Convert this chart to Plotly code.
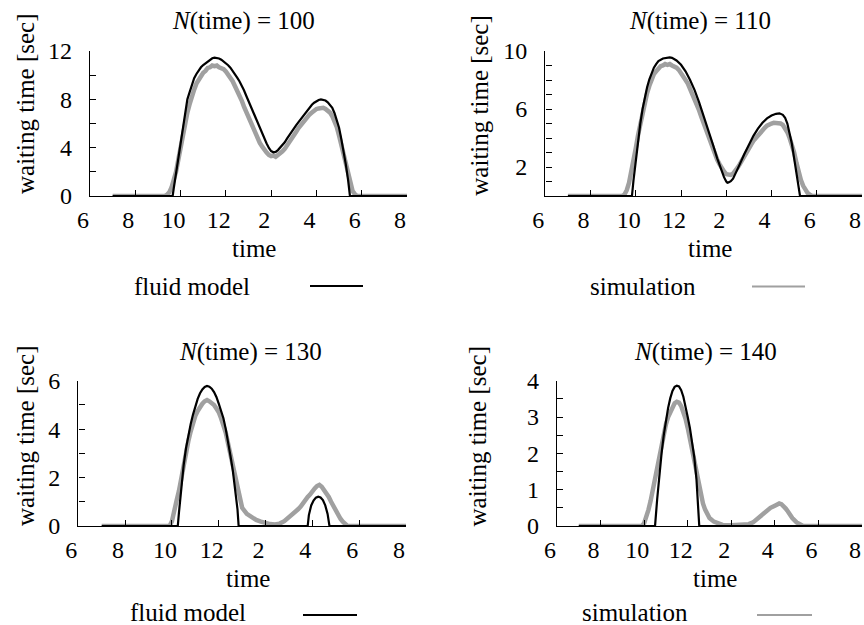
import plotly.graph_objects as go

# ---------------- data ----------------
hour_ticks = [6, 8, 10, 12, 14, 16, 18, 20]
hour_labels = ["6", "8", "10", "12", "2", "4", "6", "8"]

panel_titles = ["<i>N</i>(time) = 100", "<i>N</i>(time) = 110",
                "<i>N</i>(time) = 130", "<i>N</i>(time) = 140"]

y_top = [12, 10, 6, 4]
yticks_100 = [0, 2, 4, 6, 8, 10, 12]
ylabels_100 = ["0", "", "4", "", "8", "", "12"]
yticks_110 = [0, 1, 2, 3, 4, 5, 6, 7, 8, 9, 10]
ylabels_110 = ["", "", "2", "", "", "", "6", "", "", "", "10"]
yticks_130 = [0, 1, 2, 3, 4, 5, 6]
ylabels_130 = ["0", "", "2", "", "4", "", "6"]
yticks_140 = [0, 0.5, 1, 1.5, 2, 2.5, 3, 3.5, 4]
ylabels_140 = ["0", "", "1", "", "2", "", "3", "", "4"]

# fluid model, N = 100
t_fluid_100 = [7.0, 9.65, 9.7, 9.8, 9.9, 10.0, 10.1, 10.2, 10.3, 10.4, 10.5, 10.6, 10.7, 10.8, 10.9,
               11.0, 11.1, 11.2, 11.3, 11.4, 11.5, 11.6, 11.7, 11.8, 11.9, 12.0, 12.1, 12.2, 12.3,
               12.4, 12.5, 12.6, 12.7, 12.8, 12.9, 13.0, 13.1, 13.2, 13.3, 13.4, 13.5, 13.6, 13.7,
               13.8, 13.9, 14.0, 14.1, 14.2, 14.3, 14.4, 14.5, 14.6, 14.7, 14.8, 14.9, 15.0, 15.1,
               15.2, 15.3, 15.4, 15.5, 15.6, 15.7, 15.8, 15.9, 16.0, 16.1, 16.2, 16.3, 16.4, 16.5,
               16.6, 16.7, 16.8, 16.9, 17.0, 17.1, 17.2, 17.3, 17.4, 17.48, 20.0]
w_fluid_100 = [0, 0, 0.65, 1.9, 3.25, 4.6, 5.9, 7.0, 8.0, 8.6, 9.25, 9.75, 10.1, 10.4, 10.65,
               10.84, 11.0, 11.15, 11.3, 11.4, 11.45, 11.44, 11.38, 11.28, 11.15, 11.0, 10.82, 10.62, 10.38,
               10.1, 9.8, 9.5, 9.15, 8.75, 8.3, 7.85, 7.4, 7.0, 6.55, 6.1, 5.65, 5.25, 4.85,
               4.35, 3.98, 3.72, 3.62, 3.65, 3.8, 4.0, 4.2, 4.45, 4.75, 5.05, 5.35, 5.6, 5.85,
               6.1, 6.35, 6.6, 6.85, 7.1, 7.35, 7.55, 7.72, 7.85, 7.95, 8.0, 7.98, 7.9, 7.75,
               7.55, 7.3, 6.85, 6.3, 5.65, 4.7, 3.7, 2.6, 1.3, 0, 0]

# simulation, N = 100
t_sim_100 = [7.0, 9.3, 9.4, 9.5, 9.6, 9.7, 9.8, 9.9, 10.0, 10.1, 10.2, 10.3, 10.4, 10.5, 10.6, 10.7,
             10.8, 10.9, 11.0, 11.1, 11.2, 11.3, 11.4, 11.5, 11.6, 11.7, 11.8, 11.9, 12.0, 12.1,
             12.2, 12.3, 12.4, 12.5, 12.6, 12.7, 12.8, 12.9, 13.0, 13.1, 13.2, 13.3, 13.4, 13.5,
             13.6, 13.7, 13.8, 13.9, 14.0, 14.1, 14.2, 14.3, 14.4, 14.5, 14.6, 14.7, 14.8, 14.9,
             15.0, 15.1, 15.2, 15.3, 15.4, 15.5, 15.6, 15.7, 15.8, 15.9, 16.0, 16.1, 16.2, 16.3,
             16.4, 16.5, 16.6, 16.7, 16.8, 16.9, 17.0, 17.1, 17.2, 17.3, 17.4, 17.5, 17.6, 17.7,
             17.8, 20.0]
w_sim_100 = [0, 0, 0.1, 0.3, 0.7, 1.3, 2.0, 3.0, 4.1, 5.1, 6.0, 6.9, 7.6, 8.3, 8.8, 9.3,
             9.6, 9.95, 10.2, 10.35, 10.6, 10.65, 10.8, 10.75, 10.8, 10.65, 10.6, 10.5, 10.3, 10.05,
             9.8, 9.5, 9.1, 8.75, 8.3, 7.9, 7.4, 6.95, 6.5, 6.0, 5.6, 5.15, 4.8, 4.4,
             4.1, 3.8, 3.6, 3.4, 3.3, 3.35, 3.25, 3.4, 3.5, 3.7, 3.9, 4.15, 4.4, 4.7,
             5.0, 5.3, 5.6, 5.85, 6.1, 6.35, 6.6, 6.75, 6.9, 7.1, 7.2, 7.25, 7.3, 7.3,
             7.2, 7.1, 6.9, 6.6, 6.2, 5.7, 5.0, 4.2, 3.3, 2.4, 1.6, 0.9, 0.4, 0.15,
             0, 0]

# fluid model, N = 110
t_fluid_110 = [7.0, 9.83, 9.9, 10.0, 10.1, 10.2, 10.3, 10.4, 10.5, 10.6, 10.7, 10.8, 10.9, 11.0,
               11.2, 11.4, 11.5, 11.6, 11.8, 12.0, 12.2, 12.4, 12.6, 12.8, 13.0, 13.2, 13.4, 13.6,
               13.8, 13.9, 14.0, 14.05, 14.1, 14.2, 14.3, 14.4, 14.6, 14.8, 15.0, 15.2, 15.4, 15.6,
               15.8, 16.0, 16.2, 16.35, 16.5, 16.6, 16.7, 16.8, 16.9, 17.0, 17.1, 17.2, 17.26, 20.0]
w_fluid_110 = [0, 0, 1.1, 2.5, 3.8, 5.0, 6.0, 6.8, 7.5, 8.05, 8.5, 8.85, 9.1, 9.3,
               9.48, 9.56, 9.56, 9.53, 9.35, 9.05, 8.6, 8.0, 7.3, 6.45, 5.55, 4.6, 3.6, 2.6,
               1.7, 1.3, 1.0, 0.92, 0.94, 1.02, 1.2, 1.5, 2.2, 2.9, 3.55, 4.15, 4.65, 5.05,
               5.35, 5.55, 5.67, 5.7, 5.6, 5.4, 5.0, 4.4, 3.6, 2.6, 1.6, 0.6, 0, 0]

# simulation, N = 110
t_sim_110 = [7.0, 9.4, 9.5, 9.6, 9.7, 9.8, 9.9, 10.0, 10.1, 10.2, 10.3, 10.4, 10.5, 10.6, 10.7,
             10.8, 10.9, 11.0, 11.1, 11.2, 11.3, 11.4, 11.5, 11.6, 11.7, 11.8, 11.9, 12.0, 12.1,
             12.2, 12.3, 12.4, 12.5, 12.6, 12.7, 12.8, 12.9, 13.0, 13.1, 13.2, 13.3, 13.4, 13.5,
             13.6, 13.7, 13.8, 13.9, 14.0, 14.1, 14.2, 14.3, 14.4, 14.5, 14.6, 14.7, 14.8, 14.9,
             15.0, 15.1, 15.2, 15.3, 15.4, 15.5, 15.6, 15.7, 15.8, 15.9, 16.0, 16.1, 16.2, 16.3,
             16.4, 16.5, 16.6, 16.7, 16.8, 16.9, 17.0, 17.1, 17.2, 17.3, 17.4, 17.5, 17.6, 17.7,
             17.8, 20.0]
w_sim_110 = [0, 0, 0.1, 0.4, 0.9, 1.6, 2.4, 3.3, 4.2, 5.0, 5.8, 6.5, 7.1, 7.6, 8.05,
             8.4, 8.6, 8.8, 8.95, 9.0, 9.1, 9.05, 9.1, 9.0, 8.95, 8.85, 8.7, 8.5, 8.3,
             8.0, 7.75, 7.4, 7.1, 6.7, 6.3, 5.9, 5.45, 5.0, 4.55, 4.1, 3.65, 3.2, 2.85,
             2.5, 2.2, 1.9, 1.7, 1.5, 1.5, 1.45, 1.55, 1.7, 1.95, 2.2, 2.5, 2.8, 3.05,
             3.3, 3.55, 3.8, 4.0, 4.2, 4.4, 4.6, 4.7, 4.85, 4.95, 5.0, 5.05, 5.05, 5.05,
             5.0, 4.9, 4.7, 4.4, 4.0, 3.55, 3.0, 2.3, 1.6, 1.1, 0.7, 0.4, 0.2, 0.08,
             0, 0]

# fluid model, N = 130
t_fluid_130 = [7.0, 10.25, 10.3, 10.4, 10.5, 10.6, 10.7, 10.8, 10.9, 11.0, 11.1, 11.2, 11.3,
               11.4, 11.5, 11.6, 11.7, 11.8, 11.9, 12.0, 12.1, 12.2, 12.3, 12.4, 12.5, 12.6,
               12.7, 12.8, 12.85, 15.8, 15.85, 15.95, 16.05, 16.15, 16.25, 16.35, 16.45, 16.55,
               16.65, 16.73, 20.0]
w_fluid_130 = [0, 0, 0.55, 1.6, 2.5, 3.2, 3.75, 4.2, 4.6, 4.95, 5.25, 5.48, 5.64,
               5.74, 5.78, 5.75, 5.67, 5.53, 5.33, 5.05, 4.75, 4.45, 4.0, 3.5, 2.9, 2.3,
               1.55, 0.7, 0, 0, 0.45, 0.85, 1.05, 1.17, 1.21, 1.18, 1.07, 0.85,
               0.5, 0, 0]

# simulation, N = 130
t_sim_130 = [7.0, 9.9, 10.0, 10.1, 10.2, 10.3, 10.4, 10.5, 10.6, 10.7, 10.8, 10.9, 11.0, 11.1,
             11.2, 11.3, 11.4, 11.5, 11.6, 11.7, 11.8, 11.9, 12.0, 12.1, 12.2, 12.3, 12.4, 12.5,
             12.6, 12.7, 12.8, 12.9, 13.0, 13.2, 13.4, 13.6, 13.8, 14.0, 14.2, 14.4, 14.6, 14.8,
             15.0, 15.2, 15.4, 15.5, 15.6, 15.7, 15.8, 15.9, 16.0, 16.1, 16.2, 16.3, 16.4, 16.5,
             16.6, 16.7, 16.8, 16.9, 17.0, 17.1, 17.2, 17.3, 17.4, 17.5, 20.0]
w_sim_130 = [0, 0, 0.2, 0.55, 1.05, 1.45, 2.0, 2.5, 3.05, 3.5, 3.9, 4.25, 4.55, 4.75,
             4.95, 5.05, 5.15, 5.2, 5.15, 5.1, 5.0, 4.85, 4.7, 4.45, 4.2, 3.85, 3.4, 2.95,
             2.5, 2.0, 1.5, 1.05, 0.75, 0.5, 0.35, 0.25, 0.18, 0.12, 0.08, 0.06, 0.1, 0.2,
             0.35, 0.5, 0.7, 0.8, 0.95, 1.05, 1.2, 1.3, 1.45, 1.55, 1.65, 1.7, 1.62, 1.5,
             1.35, 1.2, 1.0, 0.8, 0.6, 0.45, 0.3, 0.18, 0.08, 0, 0]

# fluid model, N = 140
t_fluid_140 = [7.0, 10.5, 10.6, 10.7, 10.8, 10.9, 11.0, 11.1, 11.2, 11.3, 11.4, 11.5, 11.6,
               11.7, 11.8, 11.9, 12.0, 12.1, 12.2, 12.3, 12.4, 12.5, 12.53, 20.0]
w_fluid_140 = [0, 0, 0.75, 1.45, 2.0, 2.5, 2.9, 3.25, 3.52, 3.72, 3.83, 3.86, 3.84,
               3.74, 3.56, 3.32, 3.0, 2.7, 2.35, 1.9, 1.3, 0.45, 0, 0]

# simulation, N = 140
t_sim_140 = [7.0, 9.9, 10.0, 10.1, 10.2, 10.3, 10.4, 10.5, 10.6, 10.7, 10.8, 10.9, 11.0, 11.1,
             11.2, 11.3, 11.4, 11.5, 11.6, 11.7, 11.8, 11.9, 12.0, 12.1, 12.2, 12.3, 12.4, 12.5,
             12.6, 12.7, 12.8, 12.9, 13.0, 13.2, 13.4, 13.6, 14.0, 14.4, 14.8, 15.0, 15.2, 15.4,
             15.6, 15.8, 16.0, 16.1, 16.2, 16.3, 16.4, 16.5, 16.6, 16.8, 17.0, 17.2, 17.3, 20.0]
w_sim_140 = [0, 0, 0.08, 0.25, 0.45, 0.7, 1.0, 1.35, 1.7, 2.0, 2.3, 2.55, 2.8, 3.0,
             3.15, 3.3, 3.38, 3.42, 3.4, 3.3, 3.15, 2.95, 2.7, 2.4, 2.1, 1.8, 1.45, 1.15,
             0.85, 0.62, 0.45, 0.32, 0.22, 0.12, 0.06, 0.03, 0.02, 0.02, 0.05, 0.1, 0.2, 0.32,
             0.42, 0.5, 0.56, 0.6, 0.62, 0.6, 0.55, 0.48, 0.4, 0.22, 0.1, 0.02, 0, 0]

legend_names = ["fluid model", "simulation", "fluid model", "simulation"]

# ---------------- layout helpers ----------------
W, H = 864, 625
FONT = "Liberation Serif"
BLACK = "#000000"
GRAY = "#a0a0a0"


def px(x):
    return x / W


def py(y):
    return 1 - y / H


# plot boxes in screen pixels: (left, right, top, bottom)
boxes = [(90, 407, 51, 196), (545.3, 862, 51, 196),
         (78.3, 406, 380.7, 526), (557, 862, 380.7, 526)]

fluid_t = [t_fluid_100, t_fluid_110, t_fluid_130, t_fluid_140]
fluid_w = [w_fluid_100, w_fluid_110, w_fluid_130, w_fluid_140]
sim_t = [t_sim_100, t_sim_110, t_sim_130, t_sim_140]
sim_w = [w_sim_100, w_sim_110, w_sim_130, w_sim_140]
yticks = [yticks_100, yticks_110, yticks_130, yticks_140]
ylabels = [ylabels_100, ylabels_110, ylabels_130, ylabels_140]

fig = go.Figure()

for i in range(4):
    sfx = "" if i == 0 else str(i + 1)
    fig.add_trace(go.Scatter(x=sim_t[i], y=sim_w[i], mode="lines", name="simulation",
                             line=dict(color=GRAY, width=4.5), showlegend=False,
                             xaxis="x" + sfx, yaxis="y" + sfx))
    fig.add_trace(go.Scatter(x=fluid_t[i], y=fluid_w[i], mode="lines", name="fluid model",
                             line=dict(color=BLACK, width=2.2), showlegend=False,
                             xaxis="x" + sfx, yaxis="y" + sfx))
    l, r, t, b = boxes[i]
    common = dict(showline=True, linecolor=BLACK, linewidth=1.4, ticks="inside",
                  ticklen=6, tickwidth=1.1, tickcolor=BLACK, showgrid=False,
                  zeroline=False, automargin=False,
                  tickfont=dict(family=FONT, size=24, color=BLACK))
    fig.layout["xaxis" + sfx] = dict(domain=[px(l), px(r)], range=[6, 20],
                                     tickvals=hour_ticks, ticktext=hour_labels,
                                     anchor="y" + sfx, ticklabelshift=-7,
                                     ticklabelstandoff=2, **common)
    fig.layout["yaxis" + sfx] = dict(domain=[py(b), py(t)], range=[0, y_top[i]],
                                     tickvals=yticks[i], ticktext=ylabels[i],
                                     anchor="x" + sfx, ticklabelstandoff=12, **common)

# text positions (screen pixel centres)
title_pos = [(244, 21.5), (699.5, 21.5), (250, 351.5), (705, 351.5)]
ytitle_pos = [(25, 104), (478.7, 105), (25, 436), (477, 436.5)]
xtitle_pos = [(254, 248), (710, 248), (248.3, 578.5), (715.3, 578.5)]
legend_text_pos = [(192, 286), (643, 286), (187.5, 612), (635, 612)]
legend_line_pos = [(310, 363, 286), (752, 805, 286.5), (303, 357, 615), (757, 812, 615)]
legend_colors = [BLACK, GRAY, BLACK, GRAY]

annotations = []
shapes = []
tf = dict(family=FONT, size=25, color=BLACK)
for i in range(4):
    annotations.append(dict(text=panel_titles[i], x=px(title_pos[i][0]), y=py(title_pos[i][1]),
                            xref="paper", yref="paper", showarrow=False, font=tf,
                            xanchor="center", yanchor="middle"))
    annotations.append(dict(text="waiting time [sec]", x=px(ytitle_pos[i][0]), y=py(ytitle_pos[i][1]),
                            xref="paper", yref="paper", showarrow=False, font=tf, textangle=-90,
                            xanchor="center", yanchor="middle"))
    annotations.append(dict(text="time", x=px(xtitle_pos[i][0]), y=py(xtitle_pos[i][1]),
                            xref="paper", yref="paper", showarrow=False, font=tf,
                            xanchor="center", yanchor="middle"))
    annotations.append(dict(text=legend_names[i], x=px(legend_text_pos[i][0]), y=py(legend_text_pos[i][1]),
                            xref="paper", yref="paper", showarrow=False, font=tf,
                            xanchor="center", yanchor="middle"))
    x0, x1, yy = legend_line_pos[i]
    shapes.append(dict(type="line", xref="paper", yref="paper", x0=px(x0), x1=px(x1),
                       y0=py(yy), y1=py(yy), line=dict(color=legend_colors[i], width=2.2)))

fig.update_layout(width=W, height=H, autosize=False,
                  margin=dict(l=0, r=0, t=0, b=0, pad=0, autoexpand=False),
                  paper_bgcolor="white", plot_bgcolor="white",
                  showlegend=False, annotations=annotations, shapes=shapes,
                  font=dict(family=FONT, size=24, color=BLACK))

# place the figure at the page's top-left corner (no default body margin / scrollbars)
fig.write_html("out.html", config={"displayModeBar": False},
               post_script="document.body.style.margin='0';document.body.style.overflow='hidden';")
